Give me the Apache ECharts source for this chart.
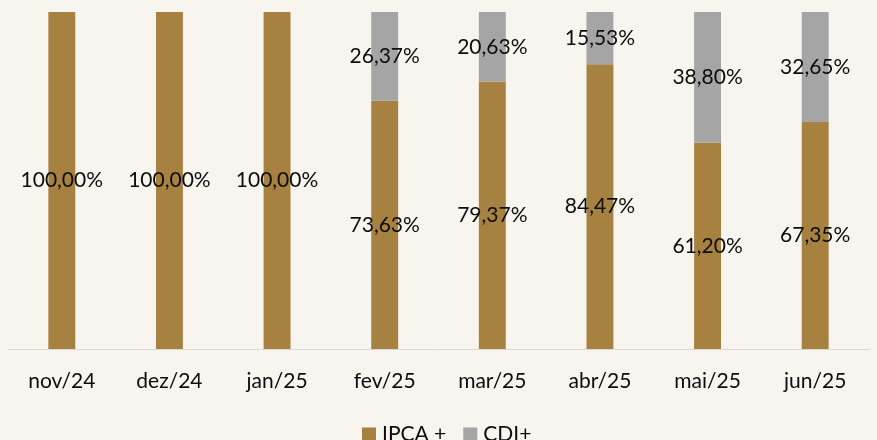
<!DOCTYPE html>
<html>
<head>
<meta charset="utf-8">
<script src="https://cdn.jsdelivr.net/npm/echarts@6/dist/echarts.min.js"></script>
<style>
html,body{margin:0;padding:0;background:#f8f4ee;}
#c{width:877px;height:440px;}
</style>
</head>
<body>
<div id="c"></div>
<script>
const categories = ['nov/24','dez/24','jan/25','fev/25','mar/25','abr/25','mai/25','jun/25'];
const ipcaValues = [100.00,100.00,100.00,73.63,79.37,84.47,61.20,67.35];
const cdiValues = [0,0,0,26.37,20.63,15.53,38.80,32.65];
const seriesNames = ['IPCA +','CDI+'];

const FONT = 'Lato';
const fmt = p => p.value > 0 ? p.value.toFixed(2).replace('.', ',') + '%' : '';

const chart = echarts.init(document.getElementById('c'), null, {renderer:'canvas'});
chart.setOption({
  backgroundColor: '#f8f4ee',
  animation: false,
  grid: {left: 8, right: 8, top: 12, bottom: 91, containLabel: false},
  legend: {
    data: seriesNames,
    top: 424, left: 362, padding: 0,
    itemWidth: 14, itemHeight: 14, itemGap: 17,
    icon: 'rect',
    textStyle: {fontFamily: FONT, fontSize: 21, color: '#0d0d0d', padding: [0,0,0,1]}
  },
  xAxis: {
    type: 'category',
    data: categories,
    axisLine: {lineStyle: {color: '#d9d9d9', width: 1}},
    axisTick: {show: false},
    axisLabel: {fontFamily: FONT, fontSize: 21, color: '#0d0d0d', margin: 22}
  },
  yAxis: {
    type: 'value', min: 0, max: 100, show: false,
    splitLine: {show: false}
  },
  series: [
    {
      name: seriesNames[0], type: 'bar', stack: 'total',
      data: ipcaValues, barWidth: '25%',
      itemStyle: {color: '#a6813f'},
      label: {show: true, position: 'inside', formatter: fmt, fontFamily: FONT, fontSize: 21, color: '#0d0d0d'}
    },
    {
      name: seriesNames[1], type: 'bar', stack: 'total',
      data: cdiValues, barWidth: '25%',
      itemStyle: {color: '#a5a5a5'},
      label: {show: true, position: 'inside', formatter: fmt, fontFamily: FONT, fontSize: 21, color: '#0d0d0d'}
    }
  ]
});
</script>
</body>
</html>
